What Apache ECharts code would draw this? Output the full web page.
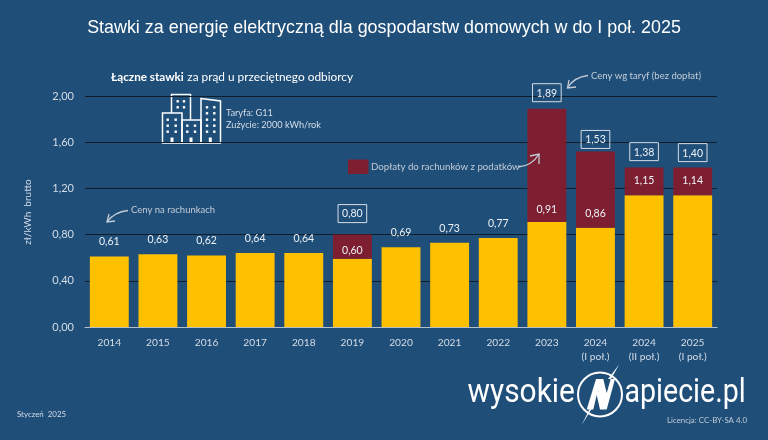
<!DOCTYPE html>
<html lang="pl">
<head>
<meta charset="UTF-8">
<title>Stawki za energię elektryczną</title>
<script src="https://cdn.jsdelivr.net/npm/echarts@6/dist/echarts.min.js"></script>
<style>
html, body { margin: 0; padding: 0; background: #1f4e79; }
#chart { width: 768px; height: 440px; }
</style>
</head>
<body>
<div id="chart"></div>
<script>
const categories = ['2014', '2015', '2016', '2017', '2018', '2019', '2020', '2021', '2022', '2023', '2024\n(I poł.)', '2024\n(II poł.)', '2025\n(I poł.)'];
const cenyBars = [0.61, 0.63, 0.62, 0.64, 0.64, 0.59, 0.69, 0.73, 0.77, 0.91, 0.86, 1.14, 1.14];
const doplatyBars = [null, null, null, null, null, 0.21, null, null, null, 0.98, 0.66, 0.24, 0.24];
const cenyLabels = ['0,61', '0,63', '0,62', '0,64', '0,64', '0,60', '0,69', '0,73', '0,77', '0,91', '0,86', '1,15', '1,14'];
const sumaLabels = [null, null, null, null, null, '0,80', null, null, null, '1,89', '1,53', '1,38', '1,40'];

const font = 'Lato, "Open Sans", sans-serif';
const light = '#d5dde6';
const grey = '#c3ccd6';

// label gaps that differ from the default ones
const cenyGap = { 5: 3, 9: 7 };
const sumaGap = { 5: 12, 9: 7, 10: 3, 11: 7, 12: 6 };

function txt(x, y, text, size, color, extra, el) {
  return Object.assign({
    type: 'text', x: x, y: y, silent: true, z: 10,
    style: Object.assign({ text: text, font: size + 'px ' + font, fill: color, textVerticalAlign: 'middle' }, extra || {})
  }, el || {});
}

function arrow(x1, y1, cx, cy, x2, y2, hx1, hy1, hx2, hy2) {
  return [
    { type: 'bezierCurve', silent: true, z: 10, shape: { x1: x1, y1: y1, cpx1: cx, cpy1: cy, x2: x2, y2: y2 }, style: { stroke: grey, lineWidth: 1.3, fill: null } },
    { type: 'polyline', silent: true, z: 10, shape: { points: [[hx1, hy1], [x2, y2], [hx2, hy2]] }, style: { stroke: grey, lineWidth: 1.3, fill: null } }
  ];
}

// building icon
const iconLine = { stroke: '#fff', lineWidth: 1.5, fill: null };
const icon = [
  { type: 'polygon', silent: true, shape: { points: [[162.5, 113], [182, 113], [182, 143], [162.5, 143]] }, style: iconLine },
  { type: 'polyline', silent: true, shape: { points: [[171.5, 113], [171.5, 94.5], [190.5, 94.5], [190.5, 120]] }, style: iconLine },
  { type: 'polygon', silent: true, shape: { points: [[182, 120], [201, 120], [201, 143], [182, 143]] }, style: iconLine },
  { type: 'polygon', silent: true, shape: { points: [[201, 98.5], [220.5, 101], [220.5, 143], [201, 143]] }, style: iconLine }
];
[[177.7, 101.3], [184, 101.3], [177.7, 107.3], [184, 107.3],
 [167.7, 119.7], [175.7, 119.7], [167.7, 125.7], [175.7, 125.7], [167.7, 131.7], [175.7, 131.7],
 [187.3, 125.7], [195, 125.7], [187.3, 131.7], [195, 131.7],
 [207, 107.3], [214.3, 107.3], [207, 113.3], [214.3, 113.3], [207, 119.7], [214.3, 119.7], [207, 125.7], [214.3, 125.7], [207, 131.7], [214.3, 131.7]
].forEach(p => {
  icon.push({ type: 'rect', silent: true, shape: { x: p[0] - 1.2, y: p[1] - 1.2, width: 2.4, height: 2.4 }, style: { fill: '#fff' } });
});
[172, 191, 210.3].forEach(x => {
  icon.push({ type: 'rect', silent: true, shape: { x: x - 1.5, y: 137.5, width: 3, height: 5 }, style: { fill: '#fff' } });
});

// logo N, points
const logoN = [[586.7, 409.5], [596, 379], [603.3, 379], [606.7, 393], [610.7, 379], [615, 379], [606.7, 409.5], [600, 409.5], [596.7, 395], [593.3, 409.5]];
const boltTop = [[619.3, 364.3], [611, 379], [608, 379]];
const boltBottom = [[581.7, 425], [591.5, 405], [594, 405]];

const graphics = [
  txt(384, 28, 'Stawki za energię elektryczną dla gospodarstw domowych w do I poł. 2025', 18, '#fff', { font: '17.9px "Liberation Sans", Arial, sans-serif', textAlign: 'center' }),
  txt(111, 77, 'Łączne stawki', 11.7, '#fff', { font: 'bold 11.7px ' + font }),
  txt(187.3, 77, 'za prąd u przeciętnego odbiorcy', 11.85, '#fff'),
  txt(226, 112.7, 'Taryfa: G11', 9.2, light),
  txt(226, 125, 'Zużycie: 2000 kWh/rok', 9.2, light),
  txt(131, 210, 'Ceny na rachunkach', 9.5, grey),
  txt(371, 167, 'Dopłaty do rachunków z podatków', 9.7, grey),
  txt(591, 76, 'Ceny wg taryf (bez dopłat)', 9.5, grey),
  { type: 'rect', silent: true, shape: { x: 348, y: 159.5, width: 20.5, height: 14.5 }, style: { fill: '#7e1f30' } },
  txt(28, 212, 'zł/kWh  brutto', 10, light, { textAlign: 'center' }, { rotation: Math.PI / 2 }),
  txt(17, 414, 'Styczeń  2025', 7.9, light),
  txt(667, 420, 'Licencja: CC-BY-SA 4.0', 7.9, grey),
  // logo
  txt(467.5, 393, 'wysokie', 34, '#fff', { font: '34px Roboto, sans-serif' }, { scaleX: 0.88 }),
  txt(624.5, 393, 'apiecie.pl', 34, '#fff', { font: '34px Roboto, sans-serif' }, { scaleX: 0.84 }),
  { type: 'circle', silent: true, shape: { cx: 600, cy: 394.5, r: 22 }, style: { fill: null, stroke: '#fff', lineWidth: 2 } },
  { type: 'polygon', silent: true, shape: { points: logoN }, style: { fill: '#fff' } },
  { type: 'polygon', silent: true, shape: { points: boltTop }, style: { fill: '#fff' } },
  { type: 'polygon', silent: true, shape: { points: boltBottom }, style: { fill: '#fff' } }
]
  .concat(arrow(128, 210.5, 114, 212, 107, 222, 109, 214, 115, 221))
  .concat(arrow(588, 75.5, 574, 77, 567.5, 88, 569, 80, 576, 87))
  .concat(arrow(518, 167, 532, 166, 539, 154, 530, 156, 539, 164))
  .concat(icon);

const chart = echarts.init(document.getElementById('chart'), null, { renderer: 'canvas' });
chart.setOption({
  animation: false,
  backgroundColor: '#1f4e79',
  textStyle: { fontFamily: font },
  grid: { left: 85, right: 51, top: 96, height: 231 },
  xAxis: {
    type: 'category',
    data: categories,
    axisTick: { show: false },
    axisLine: { lineStyle: { color: '#b4c0cc', width: 1 } },
    axisLabel: { color: light, fontSize: 10.2, margin: 9, lineHeight: 14, interval: 0 }
  },
  yAxis: {
    type: 'value',
    min: 0,
    max: 2,
    interval: 0.4,
    axisLine: { show: false },
    axisTick: { show: false },
    splitLine: { lineStyle: { color: '#0f1d2b', width: 1.2 } },
    axisLabel: { color: light, fontSize: 11, margin: 11, formatter: v => v.toFixed(2).replace('.', ',') }
  },
  series: [
    {
      name: 'Ceny',
      type: 'bar',
      stack: 'total',
      barWidth: '80%',
      itemStyle: { color: '#ffc000' },
      data: cenyBars.map((v, i) => ({
        value: v,
        label: {
          show: true,
          position: 'top',
          distance: cenyGap[i] !== undefined ? cenyGap[i] : 9,
          color: '#eef2f6',
          fontSize: 10.5,
          formatter: cenyLabels[i]
        }
      }))
    },
    {
      name: 'Dopłaty',
      type: 'bar',
      stack: 'total',
      barWidth: '80%',
      itemStyle: { color: 'rgba(134,27,42,0.92)' },
      data: doplatyBars.map((v, i) => ({
        value: v,
        label: {
          show: sumaLabels[i] !== null,
          position: 'top',
          distance: sumaGap[i],
          color: '#eef2f6',
          fontSize: 10.5,
          padding: [4, 4, 3, 4],
          borderColor: '#d5dde6',
          borderWidth: 1,
          formatter: sumaLabels[i] || ''
        }
      }))
    }
  ],
  graphic: graphics
});
</script>
</body>
</html>
